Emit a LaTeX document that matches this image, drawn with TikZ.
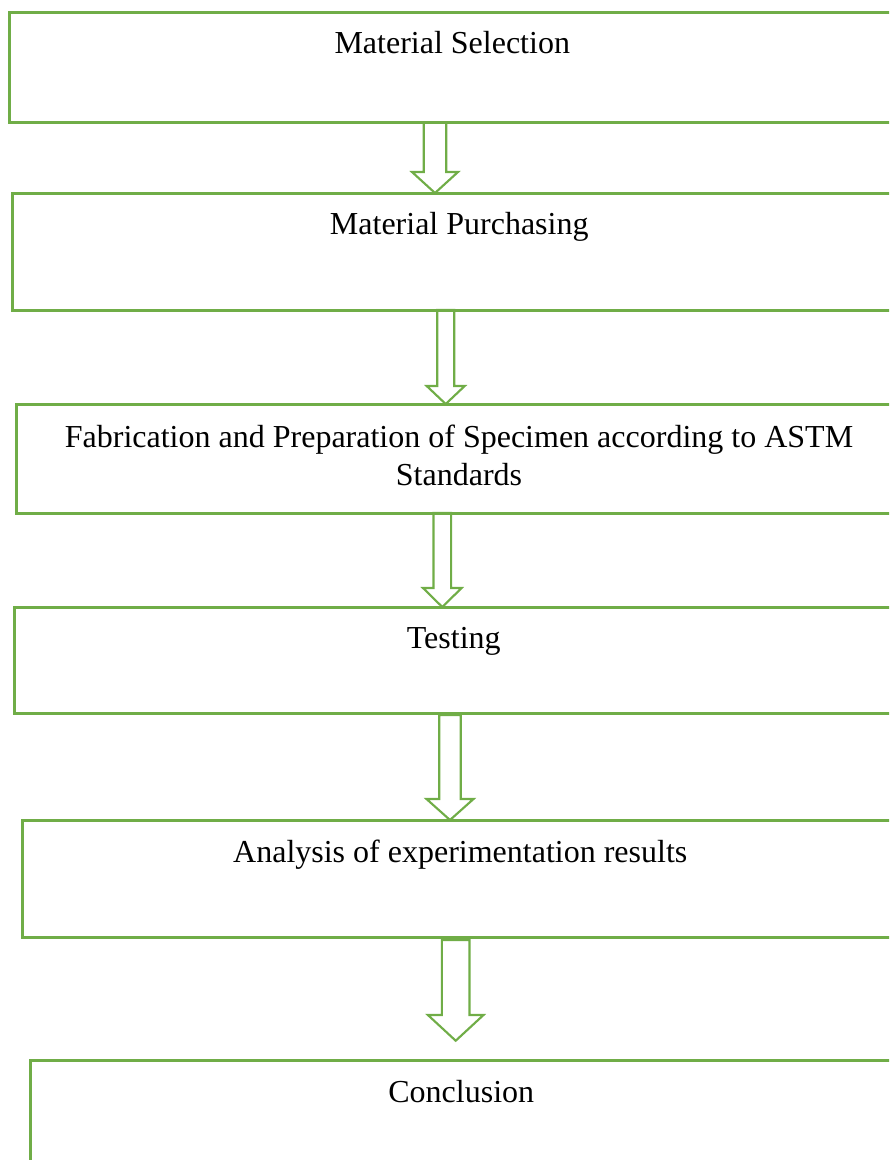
\documentclass[tikz,border=0pt]{standalone}
\usepackage{fontspec}
\setmainfont{Liberation Serif}
\usetikzlibrary{calc}

\definecolor{stagegreen}{HTML}{70AD47}
\newcommand*{\px}{0.75pt}
% #1 top, #2 tip, #3 half shaft, #4 half head, #5 head length
\newcommand*{\blockarrow}[5]{%
	\draw[arrowline] ($(#1)+(-#3,0)$) -- ($(#2)+(-#3,-#5)$) -- ($(#2)+(-#4,-#5)$) -- (#2)
		-- ($(#2)+(#4,-#5)$) -- ($(#2)+(#3,-#5)$) -- ($(#1)+(#3,0)$) -- cycle;
}

\begin{document}
\begin{tikzpicture}
[
	stagebox/.style={draw=stagegreen,line width=2.25pt,rectangle,inner sep=0pt,outer sep=0pt,anchor=north west},
	stagetext/.style={anchor=base,font=\fontsize{24}{28.5}\selectfont,align=center,inner sep=0pt},
	arrowline/.style={draw=stagegreen,line width=1.6pt,line join=miter},
	x=0.75pt,
	y=-0.75pt
]

	\useasboundingbox (0,0) rectangle (889,1160);
	\clip (0,0) rectangle (889,1160);

	% boxes
	\node[stagebox,minimum width=885.5*\px,minimum height=110*\px] at (9.5,12.5) (sel) {};
	\node[stagebox,minimum width=893.5*\px,minimum height=117*\px] at (12.5,193) (pur) {};
	\node[stagebox,minimum width=886*\px,minimum height=109*\px] at (16,404) (fab) {};
	\node[stagebox,minimum width=878.5*\px,minimum height=106*\px] at (14.5,607) (test) {};
	\node[stagebox,minimum width=875.5*\px,minimum height=117*\px] at (22.5,820) (ana) {};
	\node[stagebox,minimum width=861.5*\px,minimum height=130*\px] at (30.5,1060) (conc) {};

	% texts (base of a two-line node is its last line)
	\node[stagetext] at ($(sel.north)+(0,41)$) (selText) {Material Selection};
	\node[stagetext] at ($(pur.north)+(0,41)$) (purText) {Material Purchasing};
	\node[stagetext] at ($(fab.north)+(0,81)$) (fabText) {Fabrication and Preparation of Specimen according to ASTM\\Standards};
	\node[stagetext] at ($(test.north)+(0,41)$) (testText) {Testing};
	\node[stagetext] at ($(ana.north)+(0,42)$) (anaText) {Analysis of experimentation results};
	\node[stagetext] at ($(conc.north)+(0,42)$) (concText) {Conclusion};

	% arrows
	\coordinate (a1top) at (435,0 |- sel.south);
	\coordinate (a1tip) at (435,0 |- pur.north);
	\blockarrow{a1top}{a1tip}{11.2}{23}{21}

	\coordinate (a2top) at (445.7,0 |- pur.south);
	\coordinate (a2tip) at (445.7,0 |- fab.north);
	\blockarrow{a2top}{a2tip}{8.5}{19}{18}

	\coordinate (a3top) at (442.3,0 |- fab.south);
	\coordinate (a3tip) at (442.3,0 |- test.north);
	\blockarrow{a3top}{a3tip}{8.8}{19.3}{19}

	\coordinate (a4top) at ($(450,0 |- test.south)+(0,2)$);
	\coordinate (a4tip) at (450,0 |- ana.north);
	\blockarrow{a4top}{a4tip}{10.8}{23.5}{21}

	\coordinate (a5top) at ($(455.7,0 |- ana.south)+(0,3)$);
	\coordinate (a5tip) at ($(455.7,0 |- conc.north)+(0,-19.3)$);
	\blockarrow{a5top}{a5tip}{13.8}{27.8}{25.7}

\end{tikzpicture}
\end{document}
